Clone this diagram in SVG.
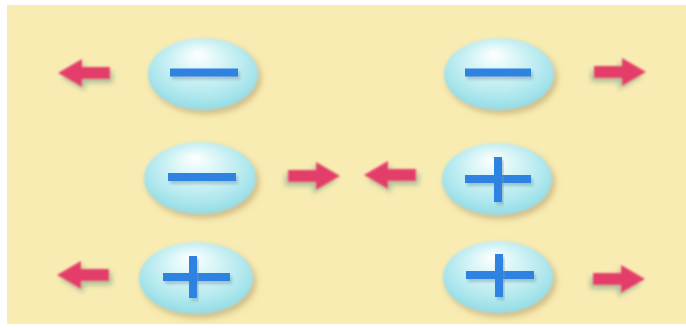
<svg xmlns="http://www.w3.org/2000/svg" width="686" height="328" viewBox="0 0 686 328">
  <defs>
    <radialGradient id="ballGrad" cx="0.5" cy="0.42" r="0.6" fx="0.45" fy="0.22">
      <stop offset="0" stop-color="#ffffff"/>
      <stop offset="0.25" stop-color="#e2f8f9"/>
      <stop offset="0.7" stop-color="#b3e9ef"/>
      <stop offset="1" stop-color="#92dbe4"/>
    </radialGradient>
    <filter id="ballShadow" x="-20%" y="-20%" width="150%" height="150%">
      <feGaussianBlur in="SourceGraphic" stdDeviation="0.8" result="b"/>
      <feDropShadow in="b" dx="3" dy="4" stdDeviation="3" flood-color="#a88f5a" flood-opacity="0.55"/>
    </filter>
    <filter id="signBlur" x="-20%" y="-40%" width="140%" height="200%">
      <feGaussianBlur in="SourceGraphic" stdDeviation="0.7" result="b"/>
      <feDropShadow in="b" dx="2" dy="3" stdDeviation="1.5" flood-color="#7a9aa8" flood-opacity="0.5"/>
    </filter>
    <filter id="arrowShadow" x="-30%" y="-50%" width="170%" height="220%">
      <feGaussianBlur in="SourceGraphic" stdDeviation="0.8" result="b"/>
      <feDropShadow in="b" dx="3" dy="4" stdDeviation="2.5" flood-color="#6f9f88" flood-opacity="0.55"/>
    </filter>
    <path id="arrowL" d="M0,0 L24,-14 L24,-6 L52,-6 L52,6 L24,6 L24,14 Z"/>
  </defs>
  <style>
    .ball { fill: url(#ballGrad); filter: url(#ballShadow); }
    .sign { fill: #2f82e2; filter: url(#signBlur); }
    .arrow { fill: #e43d6b; filter: url(#arrowShadow); }
  </style>

  <rect x="0" y="0" width="686" height="328" fill="#ffffff"/>
  <rect x="7" y="5" width="679" height="319" fill="#f9ecb2"/>

  <g id="charge-r1-left">
    <ellipse class="ball" cx="203" cy="74" rx="55" ry="36"/>
    <rect class="sign" x="170" y="68.5" width="68" height="8"/>
  </g>
  <g id="charge-r1-right">
    <ellipse class="ball" cx="499" cy="74" rx="55" ry="36"/>
    <rect class="sign" x="465" y="68.5" width="66" height="8"/>
  </g>
  <g id="charge-r2-left">
    <ellipse class="ball" cx="200" cy="178" rx="56" ry="36"/>
    <rect class="sign" x="168" y="173" width="68" height="8"/>
  </g>
  <g id="charge-r2-right">
    <ellipse class="ball" cx="497" cy="179" rx="55" ry="36"/>
    <rect class="sign" x="465" y="175" width="66" height="8"/>
    <rect class="sign" x="494" y="157" width="8" height="45"/>
  </g>
  <g id="charge-r3-left">
    <ellipse class="ball" cx="196" cy="278" rx="57" ry="36"/>
    <rect class="sign" x="163" y="273" width="67" height="8"/>
    <rect class="sign" x="189" y="256" width="8" height="42"/>
  </g>
  <g id="charge-r3-right">
    <ellipse class="ball" cx="498" cy="277" rx="55" ry="36"/>
    <rect class="sign" x="466" y="271" width="68" height="8"/>
    <rect class="sign" x="495" y="254" width="8" height="43"/>
  </g>

  <g id="connectors">
    <use href="#arrowL" class="arrow" transform="translate(58,73)"/>
    <use href="#arrowL" class="arrow" transform="translate(646,72) scale(-1,1)"/>
    <use href="#arrowL" class="arrow" transform="translate(340,176) scale(-1,1)"/>
    <use href="#arrowL" class="arrow" transform="translate(364,175)"/>
    <use href="#arrowL" class="arrow" transform="translate(57,275)"/>
    <use href="#arrowL" class="arrow" transform="translate(645,279) scale(-1,1)"/>
  </g>
</svg>
